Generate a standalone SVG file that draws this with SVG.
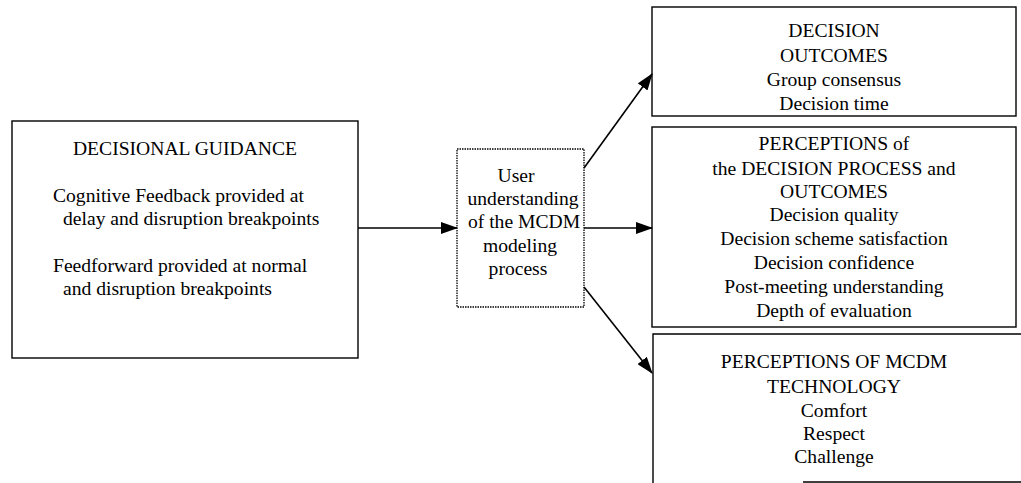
<svg xmlns="http://www.w3.org/2000/svg" width="1021" height="483" viewBox="0 0 1021 483" font-family="Liberation Serif, DejaVu Serif, serif">
<style>
text{font-size:19.6px;fill:#000}
.c{text-anchor:middle}
.box{fill:none;stroke:#000;stroke-width:1.4}
.dot{fill:none;stroke:#000;stroke-width:1.3;stroke-dasharray:1.5 1}
.conn{stroke:#000;stroke-width:1.6;fill:none}
</style>
<defs>
<marker id="ah" markerWidth="17" markerHeight="12" refX="16" refY="6" orient="auto" markerUnits="userSpaceOnUse">
<path d="M0,0 L17,6 L0,12 Z" fill="#000"/>
</marker>
</defs>
<rect width="1021" height="483" fill="#fff"/>
<g id="guidance">
<rect class="box" x="12" y="121" width="346" height="237"/>
<text class="c" x="185" y="155">DECISIONAL GUIDANCE</text>
<text x="53" y="202">Cognitive Feedback provided at</text>
<text x="63" y="225">delay and disruption breakpoints</text>
<text x="53" y="272">Feedforward provided at normal</text>
<text x="63" y="295">and disruption breakpoints</text>
</g>
<g id="understanding">
<rect class="dot" x="457" y="149" width="127" height="158"/>
<text class="c" x="516" y="182">User</text>
<text class="c" x="523" y="205">understanding</text>
<text class="c" x="524" y="228">of the MCDM</text>
<text class="c" x="520" y="252">modeling</text>
<text class="c" x="518" y="275">process</text>
</g>
<g id="outcomes">
<rect class="box" x="652" y="7" width="364" height="109"/>
<text class="c" x="834" y="37">DECISION</text>
<text class="c" x="834" y="62">OUTCOMES</text>
<text class="c" x="834" y="86">Group consensus</text>
<text class="c" x="834" y="110">Decision time</text>
</g>
<g id="perceptions-process">
<rect class="box" x="652" y="127" width="364" height="200"/>
<text class="c" x="834" y="150">PERCEPTIONS of</text>
<text class="c" x="834" y="175">the DECISION PROCESS and</text>
<text class="c" x="834" y="198">OUTCOMES</text>
<text class="c" x="834" y="221">Decision quality</text>
<text class="c" x="834" y="245">Decision scheme satisfaction</text>
<text class="c" x="834" y="269">Decision confidence</text>
<text class="c" x="834" y="293">Post-meeting understanding</text>
<text class="c" x="834" y="317">Depth of evaluation</text>
</g>
<g id="perceptions-technology">
<path class="box" d="M1021,334 H653 V483 M803,482 H1021"/>
<text class="c" x="834" y="368">PERCEPTIONS OF MCDM</text>
<text class="c" x="834" y="393">TECHNOLOGY</text>
<text class="c" x="834" y="417">Comfort</text>
<text class="c" x="834" y="440">Respect</text>
<text class="c" x="834" y="463">Challenge</text>
</g>
<g id="connectors">
<line class="conn" x1="358" y1="228" x2="457" y2="228" marker-end="url(#ah)"/>
<line class="conn" x1="584" y1="168" x2="652" y2="74" marker-end="url(#ah)"/>
<line class="conn" x1="584" y1="228" x2="652" y2="228" marker-end="url(#ah)"/>
<line class="conn" x1="584" y1="287" x2="652" y2="373" marker-end="url(#ah)"/>
</g>
</svg>
